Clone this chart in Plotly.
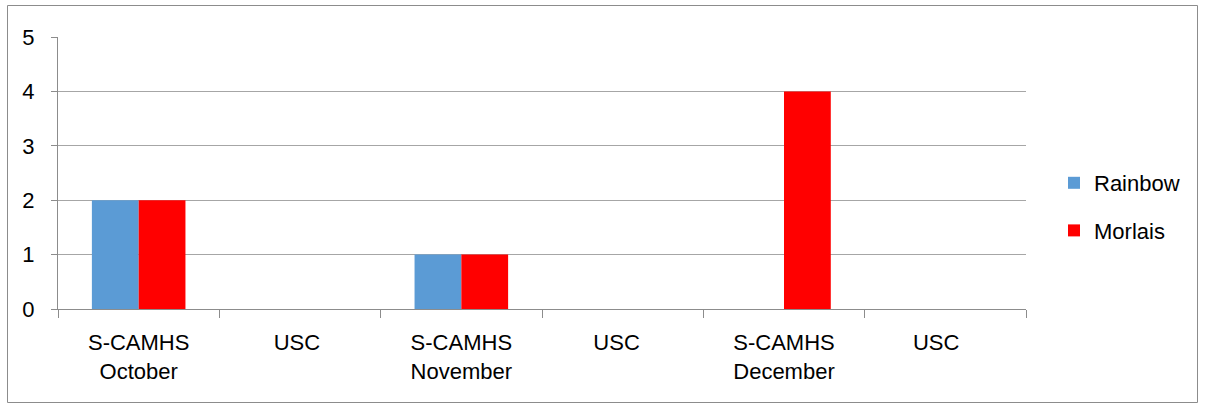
import plotly.graph_objects as go

categories = ["S-CAMHS<br>October", "USC ", "S-CAMHS<br>November", "USC  ", "S-CAMHS<br>December", "USC   "]
rainbow = [2, 0, 1, 0, 0, 0]
morlais = [2, 0, 1, 0, 4, 0]
series_names = ["Rainbow", "Morlais"]
y_ticks = [0, 1, 2, 3, 4, 5]

W, H = 1205, 407
L, T = 58, 37
R = W - 1026
B = H - 309
pw, ph = W - L - R, H - T - B

fig = go.Figure()
fig.add_trace(go.Bar(x=categories, y=rainbow, name=series_names[0],
                     marker=dict(color="#5B9BD5", line=dict(width=0)), legendgroup="a"))
fig.add_trace(go.Bar(x=categories, y=morlais, name=series_names[1],
                     marker=dict(color="#FF0000", line=dict(width=0)), legendgroup="b"))

def px_x(p):
    return (p - L) / pw

def px_y(p):
    return (H - B - p) / ph

fig.update_layout(
    width=W, height=H,
    margin=dict(l=L, r=R, t=T, b=B),
    paper_bgcolor="white", plot_bgcolor="white",
    barmode="group", bargap=0.42, bargroupgap=0,
    font=dict(family="Liberation Sans, Arial, sans-serif", size=21, color="#000000"),
    showlegend=True,
    legend=dict(x=px_x(1054), y=px_y(207), xanchor="left", yanchor="middle",
                font=dict(size=22), tracegroupgap=16, traceorder="grouped",
                itemwidth=30, bgcolor="rgba(0,0,0,0)"),
    xaxis=dict(type="category", tickson="boundaries", ticks="outside", ticklen=8,
               tickcolor="#8c8c8c", showline=True, linecolor="#8c8c8c", linewidth=1,
               showgrid=False, tickfont=dict(size=22), ticklabelstandoff=14,
               fixedrange=True),
    yaxis=dict(range=[0, 5], tickvals=y_ticks, ticks="outside", ticklen=6,
               tickcolor="#8c8c8c", showline=True, linecolor="#8c8c8c", linewidth=1,
               showgrid=True, gridcolor="#a6a6a6", gridwidth=1, zeroline=False,
               ticklabelstandoff=12, tickfont=dict(size=22)),
    shapes=[dict(type="rect", xref="paper", yref="paper",
                 x0=px_x(7.5), x1=px_x(1197.5), y0=px_y(402.5), y1=px_y(5.5),
                 line=dict(color="#8c8c8c", width=1), fillcolor="rgba(0,0,0,0)",
                 layer="below")],
)

fig.write_html("out.html", config={"displayModeBar": False},
               post_script="document.body.style.margin='0';document.body.style.padding='0';")
